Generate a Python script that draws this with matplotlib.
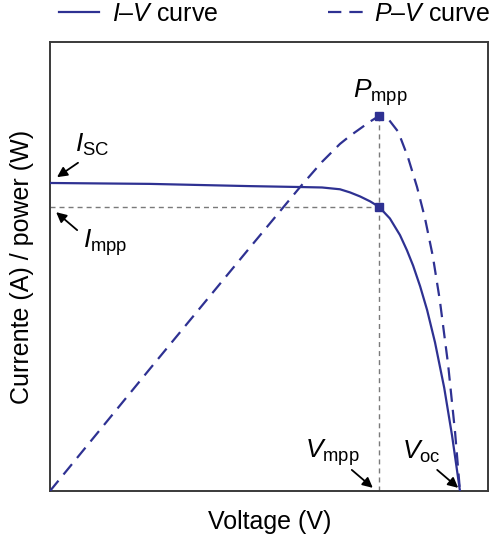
import matplotlib
matplotlib.use("Agg")
import matplotlib.pyplot as plt

plt.rcParams["font.family"] = ["Liberation Sans", "DejaVu Sans"]
plt.rcParams["mathtext.fontset"] = "custom"
plt.rcParams["mathtext.rm"] = "Liberation Sans"
plt.rcParams["mathtext.it"] = "Liberation Sans:italic"
plt.rcParams["mathtext.bf"] = "Liberation Sans:bold"

# Normalised voltage / current / power readings (arbitrary units)
iv_voltage = [0.000, 0.228, 0.457, 0.571, 0.621, 0.662, 0.685, 0.708, 0.731,
              0.751, 0.776, 0.799, 0.815, 0.829, 0.845, 0.861, 0.879, 0.900,
              0.918, 0.936]
iv_current = [0.686, 0.684, 0.679, 0.677, 0.676, 0.672, 0.665, 0.656, 0.645,
              0.633, 0.607, 0.570, 0.536, 0.502, 0.456, 0.403, 0.331, 0.230,
              0.123, 0.000]

pv_voltage = [0.000, 0.228, 0.457, 0.571, 0.621, 0.662, 0.685, 0.708, 0.731,
              0.751, 0.772, 0.795, 0.817, 0.838, 0.856, 0.874, 0.890, 0.909,
              0.925, 0.936]
pv_power = [0.000, 0.272, 0.543, 0.677, 0.733, 0.773, 0.791, 0.807, 0.823,
            0.835, 0.829, 0.800, 0.744, 0.677, 0.608, 0.523, 0.425, 0.281,
            0.129, 0.000]

v_mpp = 0.751
i_mpp = 0.633
p_mpp = 0.835
i_sc = 0.686
v_oc = 0.936

blue = "#2E3192"
guide = "#7a7a7a"

fig = plt.figure(figsize=(4.91, 5.41), dpi=100)
ax = fig.add_axes([50 / 491, 50 / 541, 438 / 491, 449 / 541])

# guide lines to the maximum power point
ax.plot([0, v_mpp], [i_mpp, i_mpp], color=guide, lw=1.0, dashes=(3.6, 2.9), zorder=1)
ax.plot([v_mpp, v_mpp], [0, p_mpp], color=guide, lw=1.0, dashes=(3.6, 2.9), zorder=1)

iv_line, = ax.plot(iv_voltage, iv_current, color=blue, lw=1.6, zorder=3,
                   solid_joinstyle="round", label="$I$–$V$ curve")
pv_line, = ax.plot(pv_voltage, pv_power, color=blue, lw=1.6, dashes=(6, 3.6),
                   zorder=3, label="$P$–$V$ curve")

ax.plot([v_mpp], [i_mpp], marker="s", ms=5.5, color=blue, zorder=4)
ax.plot([v_mpp], [p_mpp], marker="s", ms=5.5, color=blue, zorder=4)

ax.set_xlim(0, 1)
ax.set_ylim(0, 1)
ax.set_xticks([])
ax.set_yticks([])
for sp in ax.spines.values():
    sp.set_color("#3a3a3a")
    sp.set_linewidth(1.4)

ax.set_xlabel("Voltage (V)", fontsize=18)
ax.set_ylabel("Currente (A) / power (W)", fontsize=18)
ax.xaxis.set_label_coords(0.502, -0.069)
ax.xaxis.label.set_va("center")
ax.yaxis.set_label_coords(-0.064, 0.499)
ax.yaxis.label.set_va("center")

# point labels
lab_fs = 19
ax.text(0.057, 0.755, r"$I_{\mathrm{SC}}$", fontsize=lab_fs, ha="left", va="baseline")
ax.text(0.075, 0.541, r"$I_{\mathrm{mpp}}$", fontsize=lab_fs, ha="left", va="baseline")
ax.text(0.692, 0.875, r"$P_{\mathrm{mpp}}$", fontsize=lab_fs, ha="left", va="baseline")
ax.text(0.582, 0.073, r"$V_{\mathrm{mpp}}$", fontsize=lab_fs, ha="left", va="baseline")
ax.text(0.804, 0.071, r"$V_{\mathrm{oc}}$", fontsize=lab_fs, ha="left", va="baseline")

arrow = dict(arrowstyle="-|>", color="black", lw=1.3, mutation_scale=15,
             shrinkA=0, shrinkB=0)
ax.annotate("", xy=(0.016, i_sc + 0.013), xytext=(0.064, 0.731), arrowprops=arrow)
ax.annotate("", xy=(0.014, i_mpp - 0.012), xytext=(0.062, 0.581), arrowprops=arrow)
ax.annotate("", xy=(v_mpp - 0.014, 0.007), xytext=(0.689, 0.047), arrowprops=arrow)
ax.annotate("", xy=(v_oc - 0.004, 0.007), xytext=(0.884, 0.047), arrowprops=arrow)

leg_kw = dict(loc="center left", frameon=False, fontsize=18, handlelength=1.6,
              borderpad=0, borderaxespad=0)
fig.legend(handles=[iv_line], bbox_to_anchor=(59 / 491, 1 - 14 / 541),
           handletextpad=0.5, **leg_kw)
fig.legend(handles=[pv_line], bbox_to_anchor=(328 / 491, 1 - 14 / 541),
           handletextpad=0.25, **leg_kw)

fig.savefig("out.png", dpi=100)
